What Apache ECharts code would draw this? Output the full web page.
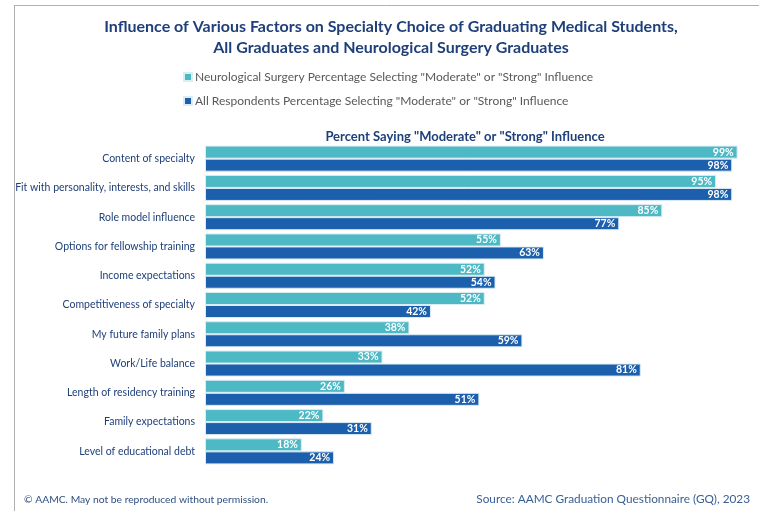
<!DOCTYPE html>
<html>
<head>
<meta charset="utf-8">
<script src="https://cdn.jsdelivr.net/npm/echarts@6/dist/echarts.min.js"></script>
<style>
html,body{margin:0;padding:0;background:#fff;}
#chart{width:759px;height:511px;}
</style>
</head>
<body>
<div id="chart"></div>
<script>
const categories = [
  "Content of specialty",
  "Fit with personality, interests, and skills",
  "Role model influence",
  "Options for fellowship training",
  "Income expectations",
  "Competitiveness of specialty",
  "My future family plans",
  "Work/Life balance",
  "Length of residency training",
  "Family expectations",
  "Level of educational debt"
];
const neuroSurgery = [99, 95, 85, 55, 52, 52, 38, 33, 26, 22, 18];
const allRespondents = [98, 98, 77, 63, 54, 42, 59, 81, 51, 31, 24];
const seriesNames = [
  'Neurological Surgery Percentage Selecting "Moderate" or "Strong" Influence',
  'All Respondents Percentage Selecting "Moderate" or "Strong" Influence'
];

const FONT = 'Lato';
const chart = echarts.init(document.getElementById('chart'));
const labelStyle = {
  show: true,
  position: 'insideRight',
  distance: 4,
  color: '#ffffff',
  fontWeight: 'bold',
  fontSize: 10.5,
  fontFamily: FONT,
  formatter: p => p.value + '%'
};
chart.setOption({
  animation: false,
  textStyle: { fontFamily: FONT },
  title: [
    {
      text: 'Influence of Various Factors on Specialty Choice of Graduating Medical Students,\nAll Graduates and Neurological Surgery Graduates',
      left: 386, top: 11, textAlign: 'center',
      textStyle: { fontSize: 16, fontWeight: 'bold', color: '#1f3f7a', fontFamily: FONT, lineHeight: 21 }
    },
    {
      text: 'Percent Saying "Moderate" or "Strong" Influence',
      left: 460, top: 125, textAlign: 'center',
      textStyle: { fontSize: 13, fontWeight: 'bold', color: '#1f3f7a', fontFamily: FONT }
    },
    {
      text: '© AAMC. May not be reproduced without permission.',
      left: 19, top: 490,
      textStyle: { fontSize: 10.3, fontWeight: 'normal', color: '#2f4f80', fontFamily: FONT }
    },
    {
      text: 'Source: AAMC Graduation Questionnaire (GQ), 2023',
      right: 4, top: 488,
      textStyle: { fontSize: 11.8, fontWeight: 'normal', color: '#3a5f94', fontFamily: FONT }
    }
  ],
  legend: {
    orient: 'vertical',
    left: 178, top: 66,
    itemWidth: 8, itemHeight: 8, itemGap: 12,
    icon: 'rect',
    textStyle: { fontSize: 12, color: '#595959', fontFamily: FONT, padding: [0, 0, 0, -2] },
    data: seriesNames
  },
  graphic: [
    { type: 'line', shape: { x1: 14, y1: 5.5, x2: 759, y2: 5.5 }, style: { stroke: '#b0b0b0', lineWidth: 1 } },
    { type: 'line', shape: { x1: 14.5, y1: 5, x2: 14.5, y2: 511 }, style: { stroke: '#b0b0b0', lineWidth: 1 } }
  ],
  grid: { left: 205, right: 16, top: 144, bottom: 45, containLabel: false },
  xAxis: {
    type: 'value', min: 0, max: 100, show: false
  },
  yAxis: {
    type: 'category', data: categories, inverse: true,
    axisLine: { show: false }, axisTick: { show: false },
    axisLabel: { color: '#1f3f7a', fontSize: 10.5, margin: 10, fontFamily: FONT }
  },
  series: [
    {
      name: seriesNames[0], type: 'bar', data: neuroSurgery,
      barGap: '0%', barCategoryGap: '11%',
      itemStyle: { color: '#4cb9c4', borderColor: '#dcecf3', borderWidth: 1 },
      label: labelStyle
    },
    {
      name: seriesNames[1], type: 'bar', data: allRespondents,
      barGap: '0%', barCategoryGap: '11%',
      itemStyle: { color: '#1b5fad', borderColor: '#dcecf3', borderWidth: 1 },
      label: labelStyle
    }
  ]
});
</script>
</body>
</html>
